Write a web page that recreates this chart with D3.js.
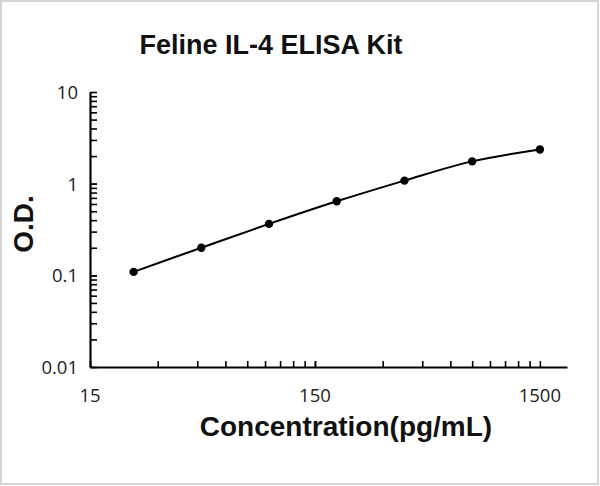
<!DOCTYPE html>
<html>
<head>
    <title>Feline IL-4 ELISA Kit</title>
    <script src="https://cdnjs.cloudflare.com/ajax/libs/d3/7.8.5/d3.min.js"></script>
    <style>
        body { margin: 0; background: #fff; }
        svg { display: block; }
        .tick-label { font-family: "Open Sans", "Liberation Sans", sans-serif; font-size: 18.5px; fill: #222; }
        .title { font-family: "Liberation Sans", Arial, sans-serif; font-weight: bold; font-size: 27px; fill: #111; }
        .axis-title { font-family: "Liberation Sans", Arial, sans-serif; font-weight: bold; font-size: 28px; fill: #111; }
    </style>
</head>
<body>
    <svg id="chart"></svg>

    <script>
        const width = 600;
        const height = 486;

        // data
        const concentration = [23.44, 46.88, 93.75, 187.5, 375, 750, 1500];
        const od = [0.109, 0.200, 0.364, 0.642, 1.08, 1.75, 2.36];
        const xTickLabels = [15, 150, 1500];
        const yTickLabels = [0.01, 0.1, 1, 10];
        const xDomain = [15, 1980];
        const yDomain = [0.01, 10];

        const svg = d3.select("#chart")
            .attr("width", width)
            .attr("height", height);

        svg.append("rect")
            .attr("x", 1).attr("y", 1)
            .attr("width", width - 3).attr("height", height - 3)
            .attr("fill", "#fff")
            .attr("stroke", "#d4d4d4")
            .attr("stroke-width", 2);

        const x = d3.scaleLog().domain(xDomain).range([90, 567]);
        const y = d3.scaleLog().domain(yDomain).range([367, 92]);

        // minor ticks: 1..9 times each decade start
        const xMinor = [];
        xTickLabels.slice(0, -1).forEach(d => {
            for (let k = 1; k <= 10; k++) xMinor.push(d * k);
        });
        const yMinor = [];
        yTickLabels.slice(0, -1).forEach(d => {
            for (let k = 1; k <= 10; k++) yMinor.push(d * k);
        });

        const xAxis = svg.append("g")
            .attr("transform", `translate(0,${y(yDomain[0])})`)
            .call(d3.axisBottom(x).tickValues(xMinor).tickSize(-6).tickFormat("").tickSizeOuter(0));
        const yAxis = svg.append("g")
            .attr("transform", `translate(${x(xDomain[0])},0)`)
            .call(d3.axisLeft(y).tickValues(yMinor).tickSize(-7).tickFormat("").tickSizeOuter(0));

        [xAxis, yAxis].forEach(a => {
            a.select(".domain").attr("stroke", "#000").attr("stroke-width", 2.2);
            a.selectAll(".tick line").attr("stroke", "#000").attr("stroke-width", 1.6);
        });

        svg.selectAll(".x-label")
            .data(xTickLabels)
            .join("text")
            .attr("class", "tick-label")
            .attr("x", d => x(d))
            .attr("y", 402)
            .attr("text-anchor", "middle")
            .text(d => d);

        svg.selectAll(".y-label")
            .data(yTickLabels)
            .join("text")
            .attr("class", "tick-label")
            .attr("x", 78)
            .attr("y", d => y(d) + 7)
            .attr("text-anchor", "end")
            .text(d => d);

        const pts = concentration.map((c, i) => [c, od[i]]);

        const line = d3.line()
            .x(d => x(d[0]))
            .y(d => y(d[1]))
            .curve(d3.curveCatmullRom);

        svg.append("path")
            .datum(pts)
            .attr("d", line)
            .attr("fill", "none")
            .attr("stroke", "#000")
            .attr("stroke-width", 2);

        svg.selectAll(".dot")
            .data(pts)
            .join("circle")
            .attr("class", "dot")
            .attr("cx", d => x(d[0]))
            .attr("cy", d => y(d[1]))
            .attr("r", 4.2)
            .attr("fill", "#000");

        svg.append("text")
            .attr("class", "title")
            .attr("x", 271)
            .attr("y", 54)
            .attr("text-anchor", "middle")
            .text("Feline IL-4 ELISA Kit");

        svg.append("text")
            .attr("class", "axis-title")
            .attr("x", 346)
            .attr("y", 436)
            .attr("text-anchor", "middle")
            .text("Concentration(pg/mL)");

        svg.append("text")
            .attr("class", "axis-title")
            .attr("transform", "translate(33,224) rotate(-90)")
            .attr("text-anchor", "middle")
            .text("O.D.");
    </script>
</body>
</html>
